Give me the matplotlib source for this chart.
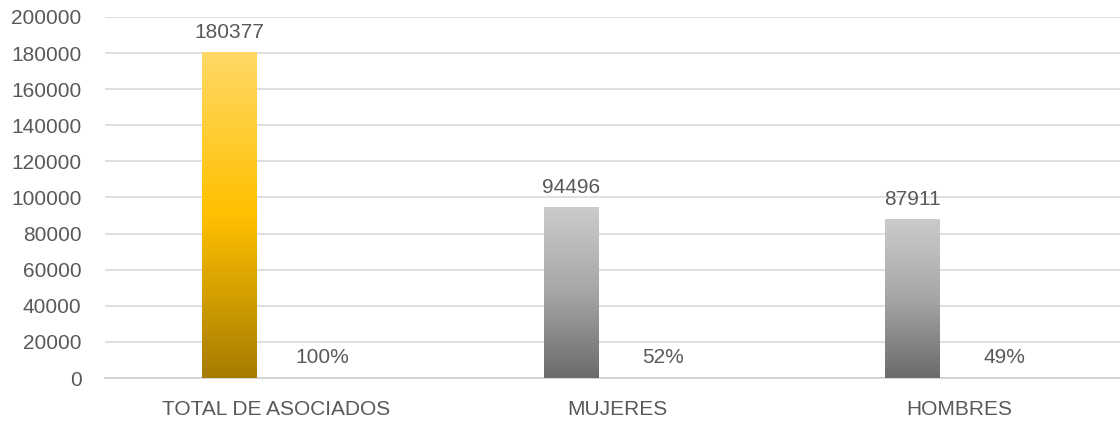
import matplotlib.pyplot as plt
import numpy as np
from matplotlib.colors import LinearSegmentedColormap

categorias = ['TOTAL DE ASOCIADOS', 'MUJERES', 'HOMBRES']
asociados = [180377, 94496, 87911]
porcentajes = [1.00, 0.52, 0.49]
etiquetas_pct = ['100%', '52%', '49%']

plt.rcParams['font.family'] = ['Liberation Sans', 'DejaVu Sans']
gris_texto = '#595959'

# degradados tipo Excel (arriba claro, abajo oscuro)
oro = LinearSegmentedColormap.from_list('oro', ['#A67C00', '#FFC000', '#FFD966'])
plata = LinearSegmentedColormap.from_list('plata', ['#6B6B6B', '#A6A6A6', '#CBCBCB'])
mapas = [oro, plata, plata]

fig = plt.figure(figsize=(11.2, 4.24), dpi=100)
# el área de gráfico original queda recortada por la derecha
ax = fig.add_axes([105 / 1120, 1 - 378 / 424, 1024.5 / 1120, 361 / 424])

x = np.arange(len(categorias))
ancho = 0.161
desp = 0.135

barras = ax.bar(x - desp, asociados, ancho, color='none', zorder=3)
barras_pct = ax.bar(x + desp, porcentajes, ancho, color='none', zorder=3)

grad = np.linspace(0, 1, 256).reshape(-1, 1)
for b, cmap in zip(barras, mapas):
    x0, y0 = b.get_x(), b.get_y()
    im = ax.imshow(grad, cmap=cmap, origin='lower', aspect='auto',
                   extent=[x0, x0 + b.get_width(), y0, y0 + b.get_height()], zorder=3)
    im.set_clip_path(b)
for b, cmap in zip(barras_pct, mapas):
    b.set_facecolor(cmap(0.0))

for b, v in zip(barras, asociados):
    ax.annotate(str(v), (b.get_x() + b.get_width() / 2, b.get_height()),
                xytext=(0, 10.5), textcoords='offset points', ha='center', va='baseline',
                fontsize=15, color=gris_texto)
for b, t in zip(barras_pct, etiquetas_pct):
    ax.annotate(t, (b.get_x() + b.get_width() / 2, b.get_height()),
                xytext=(0, 10.5), textcoords='offset points', ha='center', va='baseline',
                fontsize=15, color=gris_texto)

ax.set_xlim(-0.5, 2.5)
ax.set_ylim(0, 200000)
ax.set_yticks(range(0, 200001, 20000))
ax.set_xticks(x)
ax.set_xticklabels(categorias)
ax.tick_params(axis='both', length=0, labelsize=15, labelcolor=gris_texto)
ax.tick_params(axis='y', pad=17)
ax.tick_params(axis='x', pad=16)
ax.grid(axis='y', color='#D9D9D9', linewidth=1.2, zorder=0)
for s in ['top', 'right', 'left']:
    ax.spines[s].set_visible(False)
ax.spines['bottom'].set_color('#D0D0D0')
ax.spines['bottom'].set_linewidth(1.2)
ax.set_axisbelow(True)

fig.savefig('out.png', dpi=100)
